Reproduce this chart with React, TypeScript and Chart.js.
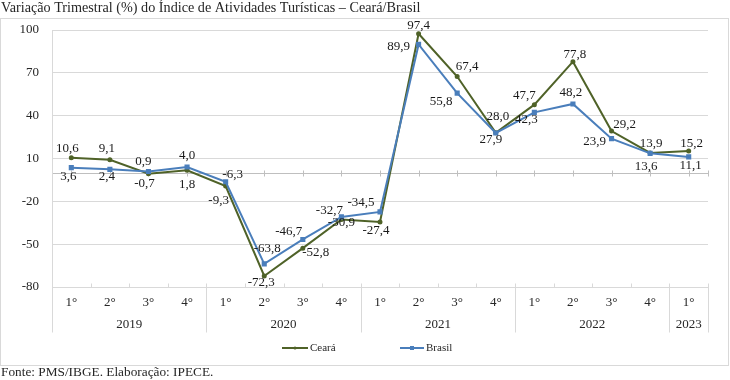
import React, { useEffect, useRef } from "react";
import { Chart, registerables } from "chart.js";

Chart.register(...registerables);

const TITLE = "Variação Trimestral (%) do Índice de Atividades Turísticas – Ceará/Brasil";
const SOURCE = "Fonte: PMS/IBGE. Elaboração: IPECE.";

const quarters = ["1°", "2°", "3°", "4°", "1°", "2°", "3°", "4°", "1°", "2°", "3°", "4°", "1°", "2°", "3°", "4°", "1°"];
const years = ["2019", "2020", "2021", "2022", "2023"];
const quartersPerYear = [4, 4, 4, 4, 1];
const ceara = [10.6, 9.1, -0.7, 1.8, -9.3, -72.3, -52.8, -32.7, -34.5, 97.4, 67.4, 28.0, 47.7, 77.8, 29.2, 13.9, 15.2];
const brasil = [3.6, 2.4, 0.9, 4.0, -6.3, -63.8, -46.7, -30.9, -27.4, 89.9, 55.8, 27.9, 42.3, 48.2, 23.9, 13.6, 11.1];
const yTicks = [-80, -50, -20, 10, 40, 70, 100];

// data-label placement relative to each point (dx, dy)
const cearaLabelOffset = [
  [-4, -9], [-3, -11], [-4, 10], [0, 14], [-7, 15], [-3, 7], [13, 4], [-12, -9], [-19, -19],
  [0, -8], [10, -10], [2, -16], [-10, -9], [2, -7], [13, -7], [1, -9], [3, -7],
];
const brasilLabelOffset = [
  [-3, 9], [-3, 7], [-5, -10], [0, -11], [7, -7], [3, -15], [-14, -8], [0, 6], [-4, 19],
  [-20, 2], [-16, 8], [-5, 7], [-8, 7], [-2, -11], [-17, 3], [-4, 13], [2, 9],
];

const FONT = "'Liberation Serif', 'Times New Roman', serif";
const CEARA_COLOR = "#4f6228";
const BRASIL_COLOR = "#4a7ebb";
const GRID = "#d9d9d9";
const AXIS = "#bfbfbf";
const TEXT = "#262626";

const fmt = (v: number) => v.toFixed(1).replace(".", ",");

const customPlugin = {
  id: "customDecor",
  beforeDraw(chart: any) {
    const ctx = chart.ctx;
    ctx.save();
    ctx.fillStyle = "#ffffff";
    ctx.fillRect(0, 0, chart.width, chart.height);
    ctx.strokeStyle = GRID;
    ctx.lineWidth = 1;
    ctx.strokeRect(0.5, 18.5, 728, 347);
    ctx.fillStyle = TEXT;
    ctx.textAlign = "left";
    ctx.textBaseline = "middle";
    ctx.font = `14.2px ${FONT}`;
    ctx.fillText(TITLE, 1, 8);
    ctx.font = `13.3px ${FONT}`;
    ctx.fillText(SOURCE, 1, 373);
    ctx.restore();
  },
  beforeDatasetsDraw(chart: any) {
    const { ctx, chartArea } = chart;
    const x = chart.scales.x;
    const y = chart.scales.y;
    const w = x.getPixelForValue(1) - x.getPixelForValue(0);
    const start = x.getPixelForValue(0) - w / 2;
    const n = quarters.length;
    const bottom = Math.round(chartArea.bottom) + 0.5;
    const sepBottom = bottom + 45;
    ctx.save();
    ctx.lineWidth = 1;
    ctx.strokeStyle = AXIS;
    // zero axis line
    const y0 = Math.round(y.getPixelForValue(0)) + 0.5;
    ctx.beginPath();
    ctx.moveTo(chartArea.left, y0);
    ctx.lineTo(chartArea.right, y0);
    for (let i = 0; i < n; i++) {
      const cx = Math.round(x.getPixelForValue(i)) + 0.5;
      ctx.moveTo(cx, y0 - 3);
      ctx.lineTo(cx, y0 + 3);
    }
    const rx = Math.round(chartArea.right) + 0.5;
    ctx.moveTo(rx, y0 - 3);
    ctx.lineTo(rx, y0 + 3);
    ctx.stroke();

    // left axis line
    ctx.strokeStyle = GRID;
    ctx.beginPath();
    const lx = Math.round(chartArea.left) + 0.5;
    ctx.moveTo(lx, Math.round(chartArea.top) + 0.5);
    ctx.lineTo(lx, sepBottom);
    // bottom ticks / group separators
    const groupEnds: number[] = [];
    let acc = 0;
    quartersPerYear.forEach((q) => {
      acc += q;
      groupEnds.push(acc);
    });
    for (let k = 1; k <= n; k++) {
      const bx = Math.round(start + k * w) + 0.5;
      if (groupEnds.includes(k)) {
        ctx.moveTo(bx, bottom - 4);
        ctx.lineTo(bx, sepBottom);
      } else {
        ctx.moveTo(bx, bottom - 4);
        ctx.lineTo(bx, bottom);
      }
    }
    ctx.stroke();

    // category labels
    ctx.fillStyle = TEXT;
    ctx.font = `13px ${FONT}`;
    ctx.textAlign = "center";
    ctx.textBaseline = "middle";
    for (let i = 0; i < n; i++) {
      ctx.fillText(quarters[i], x.getPixelForValue(i), bottom + 15);
    }
    let s = 0;
    years.forEach((yr, gi) => {
      const q = quartersPerYear[gi];
      const cx = start + (s + q / 2) * w;
      ctx.fillText(yr, cx, bottom + 37);
      s += q;
    });
    ctx.restore();
  },
  afterDatasetsDraw(chart: any) {
    const { ctx } = chart;
    ctx.save();
    ctx.fillStyle = "#1a1a1a";
    ctx.font = `13px ${FONT}`;
    ctx.textAlign = "center";
    ctx.textBaseline = "middle";
    const sets = [
      { meta: chart.getDatasetMeta(0), vals: ceara, off: cearaLabelOffset },
      { meta: chart.getDatasetMeta(1), vals: brasil, off: brasilLabelOffset },
    ];
    sets.forEach(({ meta, vals, off }) => {
      meta.data.forEach((pt: any, i: number) => {
        ctx.fillText(fmt(vals[i]), pt.x + off[i][0], pt.y + off[i][1]);
      });
    });

    // legend
    const ly = 348;
    ctx.font = `11px ${FONT}`;
    ctx.textAlign = "left";
    ctx.lineWidth = 2;
    ctx.strokeStyle = CEARA_COLOR;
    ctx.beginPath();
    ctx.moveTo(282, ly);
    ctx.lineTo(308, ly);
    ctx.stroke();
    ctx.fillStyle = CEARA_COLOR;
    ctx.beginPath();
    ctx.arc(295, ly, 1.5, 0, Math.PI * 2);
    ctx.fill();
    ctx.fillStyle = TEXT;
    ctx.fillText("Ceará", 310, ly);

    ctx.strokeStyle = BRASIL_COLOR;
    ctx.beginPath();
    ctx.moveTo(400, ly);
    ctx.lineTo(424, ly);
    ctx.stroke();
    ctx.fillStyle = BRASIL_COLOR;
    ctx.fillRect(410, ly - 2, 4, 4);
    ctx.fillStyle = TEXT;
    ctx.fillText("Brasil", 426, ly);
    ctx.restore();
  },
};

export default function App() {
  const ref = useRef<HTMLCanvasElement | null>(null);
  useEffect(() => {
    if (!ref.current) return;
    const chart = new Chart(ref.current, {
      type: "line",
      data: {
        labels: quarters,
        datasets: [
          {
            label: "Ceará",
            data: ceara,
            borderColor: CEARA_COLOR,
            backgroundColor: CEARA_COLOR,
            borderWidth: 2,
            pointRadius: 1.5,
            pointStyle: "circle",
            tension: 0,
            order: 2,
          },
          {
            label: "Brasil",
            data: brasil,
            borderColor: BRASIL_COLOR,
            backgroundColor: BRASIL_COLOR,
            borderWidth: 2,
            pointRadius: 2.2,
            pointStyle: "rect",
            tension: 0,
            order: 1,
          },
        ],
      },
      options: {
        animation: false,
        responsive: false,
        devicePixelRatio: 1,
        layout: { padding: { left: 0, top: 30, right: 22, bottom: 93 } },
        plugins: {
          legend: { display: false },
          title: { display: false },
          tooltip: { enabled: false },
        },
        scales: {
          x: {
            type: "category",
            display: false,
            offset: true,
          },
          y: {
            min: -80,
            max: 100,
            afterBuildTicks: (scale: any) => {
              scale.ticks = yTicks.map((v) => ({ value: v }));
            },
            afterFit: (scale: any) => {
              scale.width = 52;
            },
            grid: { color: GRID, drawTicks: false, lineWidth: 1 },
            border: { display: false },
            ticks: {
              padding: 13,
              color: TEXT,
              font: { family: FONT, size: 13 },
            },
          },
        },
      },
      plugins: [customPlugin],
    });
    return () => chart.destroy();
  }, []);
  return (
    <div style={{ position: "absolute", left: 0, top: 0, width: 730, height: 380 }}>
      <canvas ref={ref} width={730} height={380} style={{ width: 730, height: 380, display: "block" }} />
    </div>
  );
}
